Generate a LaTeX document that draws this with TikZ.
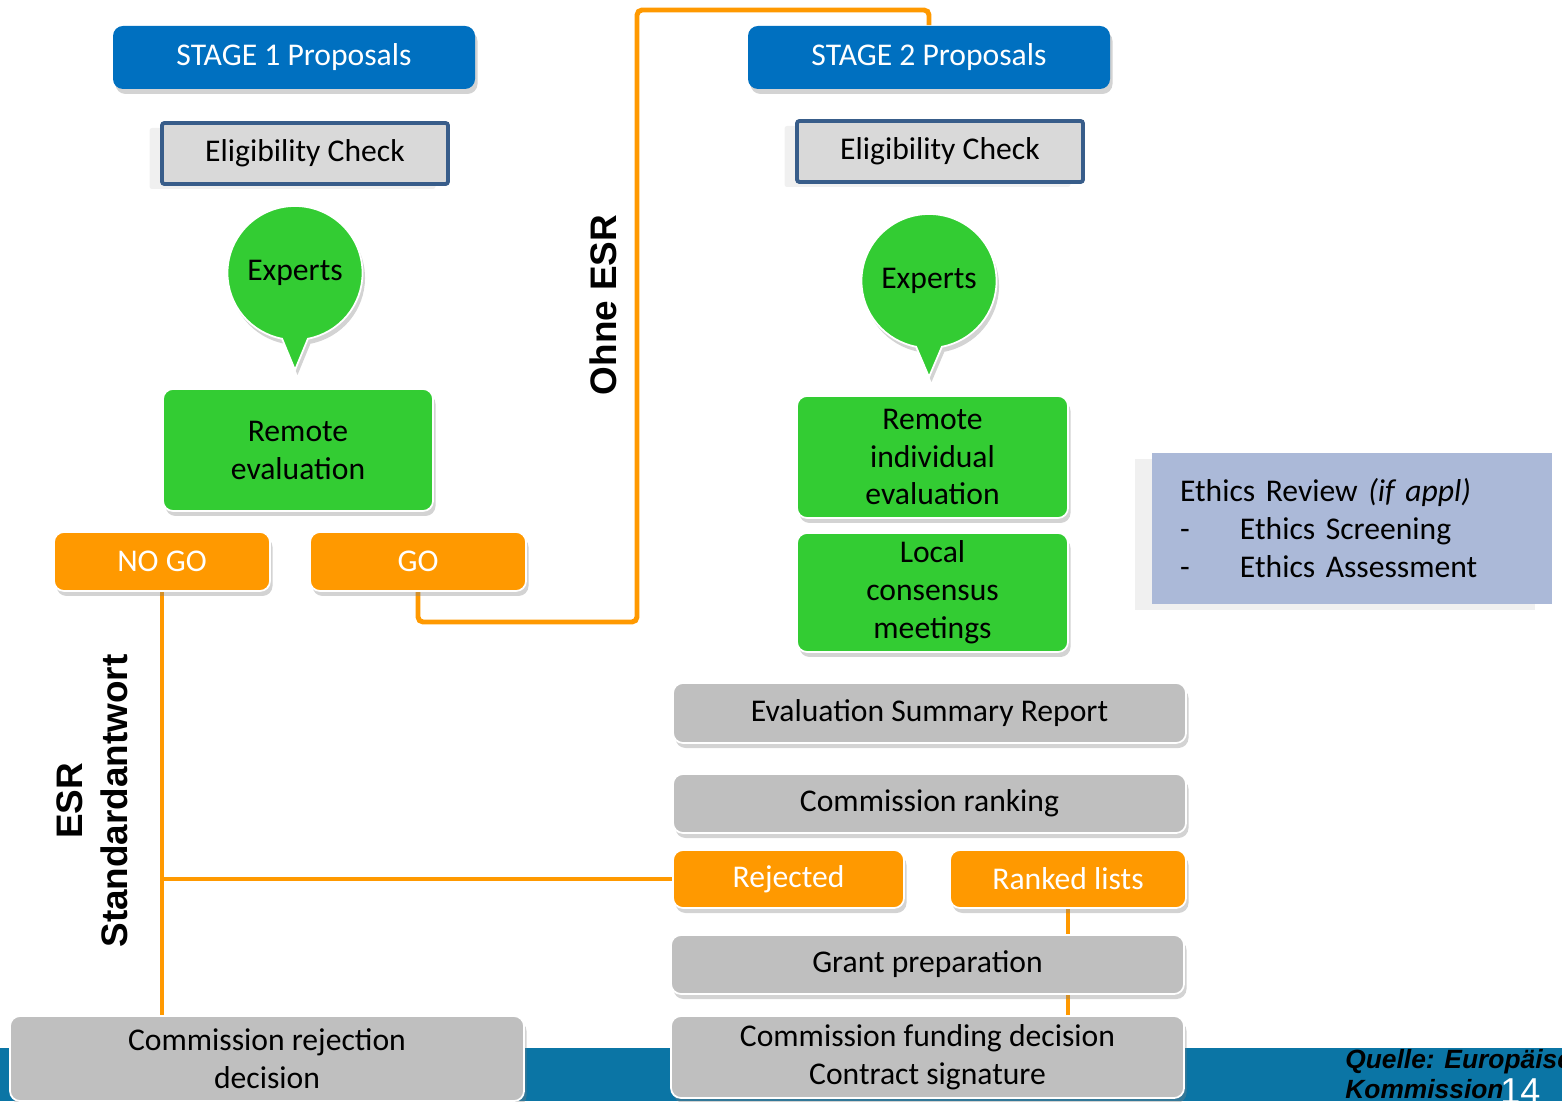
\documentclass[tikz,border=0pt]{standalone}
\usepackage{fontspec}
\setmainfont{Carlito}
\newfontfamily\arialfont{Liberation Sans}
\usetikzlibrary{shapes.callouts,shadows,backgrounds}
\definecolor{stageblue}{HTML}{0070C0}
\definecolor{checkblue}{HTML}{385D8A}
\definecolor{checkgray}{HTML}{D9D9D9}
\definecolor{evalgreen}{HTML}{33CC33}
\definecolor{goorange}{HTML}{FF9900}
\definecolor{boxgray}{HTML}{BFBFBF}
\definecolor{ethicsblue}{HTML}{ABB9D8}
\definecolor{bandblue}{HTML}{0B75A5}

\begin{document}
\begin{tikzpicture}[
  font=\fontsize{18}{21.6}\selectfont,
  card/.style={rounded corners=2mm, align=center, draw=white, line width=1pt,
               inner sep=1mm,
               drop shadow={shadow xshift=0.05cm, shadow yshift=-0.1cm, opacity=0.35}},
  stagebox/.style={card, fill=stageblue, draw=none, text=white,
                   minimum width=7.24cm, minimum height=1.26cm},
  checkbox/.style={fill=checkgray, draw=checkblue, line width=2.2pt,
                   rounded corners=0.5mm, minimum width=5.72cm, minimum height=1.22cm,
                   drop shadow={shadow xshift=-0.25cm, shadow yshift=-0.1cm, opacity=0.12}},
  bubble/.style={ellipse callout, fill=evalgreen, draw=white, line width=1pt,
                 minimum size=2.68cm, inner sep=0pt, callout pointer arc=22,
                 drop shadow={shadow xshift=0.05cm, shadow yshift=-0.1cm, opacity=0.35}},
  evalbox/.style={card, fill=evalgreen},
  choice/.style={card, fill=goorange, text=white},
  greybox/.style={card, fill=boxgray, minimum width=10.26cm},
  ethicsbox/.style={fill=ethicsblue, text width=6.88cm, inner xsep=0.56cm,
                    minimum height=3.02cm, align=left,
                    drop shadow={shadow xshift=-0.35cm, shadow yshift=-0.12cm, opacity=0.12}},
  link/.style={draw=goorange, line width=2.8pt},
  sidelabel/.style={font=\arialfont\bfseries\fontsize{21}{25.6}\selectfont, align=center},
  source/.style={font=\arialfont\bfseries\itshape\fontsize{15}{17}\selectfont, inner sep=0pt}
]
\useasboundingbox (0,0) rectangle (31.24,22.02);

% footer band
\fill[bandblue] (0,0) rectangle (31.24,1.06);

% stage 1
\node[stagebox] (stage1) at (5.88,20.87) {STAGE 1 Proposals};
\node[checkbox] (check1) at (6.10,18.95) {Eligibility Check};
\node[bubble, callout absolute pointer={(5.90,14.62)}] (experts1) at (5.90,16.56) {Experts};
\node[evalbox, minimum width=5.40cm, minimum height=2.44cm] (remote) at (5.96,13.02)
  {Remote\\evaluation};
\node[choice, minimum width=4.32cm, minimum height=1.18cm] (nogo) at (3.24,10.79) {NO GO};
\node[choice, minimum width=4.32cm, minimum height=1.18cm] (go) at (8.36,10.79) {GO};

% stage 2
\node[stagebox] (stage2) at (18.58,20.87) {STAGE 2 Proposals};
\node[checkbox] (check2) at (18.80,18.99) {Eligibility Check};
\node[bubble, callout absolute pointer={(18.58,14.48)}] (experts2) at (18.58,16.40) {Experts};
\node[evalbox, minimum width=5.42cm, minimum height=2.44cm] (individual) at (18.65,12.88)
  {Remote\\individual\\evaluation};
\node[evalbox, minimum width=5.42cm, minimum height=2.38cm] (consensus) at (18.65,10.17)
  {Local\\consensus\\meetings};
\node[ethicsbox] (ethics) at (27.04,11.45)
  {Ethics Review \textit{(if appl)}\\
   \makebox[1.2cm][l]{-}Ethics Screening\\
   \makebox[1.2cm][l]{-}Ethics Assessment};

\node[greybox, minimum height=1.20cm] (esr) at (18.59,7.76) {Evaluation Summary Report};
\node[greybox, minimum height=1.18cm] (ranking) at (18.59,5.95) {Commission ranking};
\node[choice, minimum width=4.62cm, minimum height=1.16cm] (rejected) at (15.77,4.44) {Rejected};
\node[choice, minimum width=4.72cm, minimum height=1.16cm] (ranked) at (21.36,4.44) {Ranked lists};
\node[greybox, minimum height=1.18cm] (grant) at (18.55,2.73) {Grant preparation};
\node[greybox, minimum height=1.64cm] (funding) at (18.55,0.88)
  {Commission funding decision\\Contract signature};
\node[greybox, minimum width=10.28cm, minimum height=1.70cm] (rejection) at (5.34,0.85)
  {Commission rejection\\decision};

% side labels
\node[sidelabel, rotate=90] (ohne) at (12.06,15.92) {Ohne ESR};
\node[sidelabel, rotate=90] (standard) at (1.84,6.00) {ESR\\Standardantwort};

% source and page number
\node[source, anchor=base west] (quelle) at (26.90,0.66) {Quelle: Europäische};
\node[source, anchor=base west] (kommission) at (26.90,0.06) {Kommission};
\node[font=\arialfont\fontsize{20.5}{24}\selectfont, text=white, inner sep=0pt,
      anchor=base west] (page) at (30.00,-0.04) {14};

% connectors
\begin{scope}[on background layer]
  \draw[link, rounded corners=1mm] (go.south) |- (12.74,9.58) -- (12.74,21.82) -| (stage2.north);
  \draw[link] (nogo.south) -- (nogo.south |- rejection.north);
  \draw[link] (rejected.west) -- (rejected.west -| nogo.south);
  \draw[link] (ranked.south) -- (ranked.south |- grant.north);
  \draw[link] (ranked.south |- grant.south) -- (ranked.south |- funding.north);
\end{scope}

\end{tikzpicture}
\end{document}
